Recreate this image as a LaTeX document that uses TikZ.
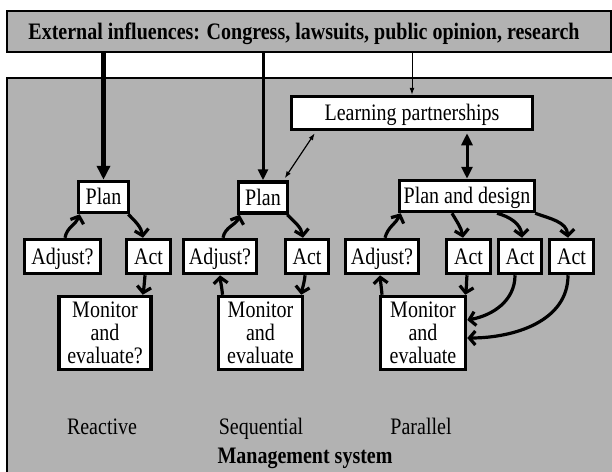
\documentclass[tikz,border=0pt]{standalone}
\usepackage{fontspec}
\usepackage{graphicx}
\setmainfont{Liberation Serif}
\usetikzlibrary{arrows.meta}
\definecolor{bg}{RGB}{178,178,178}
\newcommand{\tall}[1]{\raisebox{-3pt}[\height][\depth]{\scalebox{1}[1.18]{\fontsize{20}{19.5}\selectfont\begin{tabular}{@{}c@{}}#1\end{tabular}}}}
\begin{document}
\begin{tikzpicture}[x=1pt,y=1pt,
  box/.style={draw, line width=3.5pt, fill=white, inner sep=0pt, font=\fontsize{20}{23}\selectfont, align=center},
  flow/.style={line width=3.2pt, -{Straight Barb[length=6pt,width=14pt]}},
  lbl/.style={font=\fontsize{20}{23}\selectfont, inner sep=0pt},
  bigin/.style={line width=4.5pt, -{Triangle[length=14pt,width=13pt]}},
  medin/.style={line width=3pt, -{Triangle[length=11pt,width=10pt]}},
  thin/.style={line width=1pt, -{Latex[length=7pt,width=5pt]}},
]
\useasboundingbox (0,0) rectangle (612,-471);
\clip (0,0) rectangle (612,-471);
\fill[bg, draw=black, line width=2pt] (7,-78) rectangle (620,-490);
\node[draw, line width=1.5pt, fill=bg, minimum width=604pt, minimum height=41pt, inner sep=0pt,
  font=\bfseries\fontsize{20}{23}\selectfont] (banner) at (309,-31.5)
  {\tall{External influences: Congress, lawsuits, public opinion, research}\hspace*{10pt}};

% boxes
\node[box, minimum width=241pt, minimum height=33pt] (LP) at (412,-113) {\tall{Learning partnerships}};
\node[box, minimum width=50pt, minimum height=31pt] (Plan1) at (103.5,-197) {\tall{Plan}};
\node[box, minimum width=76pt, minimum height=34pt] (Adjust1) at (62.5,-256.5) {\tall{Adjust?}};
\node[box, minimum width=44pt, minimum height=34pt] (Act1) at (148.5,-256.5) {\tall{Act}};
\node[box, minimum width=92pt, minimum height=73pt] (Mon1) at (105,-333) {\tall{Monitor\\and\\evaluate?}};

\node[box, minimum width=49pt, minimum height=31pt] (Plan2) at (263,-197.5) {\tall{Plan}};
\node[box, minimum width=73pt, minimum height=34pt] (Adjust2) at (220,-256.5) {\tall{Adjust?}};
\node[box, minimum width=43pt, minimum height=34pt] (Act2) at (307,-256.5) {\tall{Act}};
\node[box, minimum width=84pt, minimum height=73pt] (Mon2) at (260.5,-333) {\tall{Monitor\\and\\evaluate}};

\node[box, minimum width=135pt, minimum height=31pt] (PD) at (467,-196) {\tall{Plan and design}};
\node[box, minimum width=73pt, minimum height=34pt] (Adjust3) at (382,-256.5) {\tall{Adjust?}};
\node[box, minimum width=44pt, minimum height=34pt] (Act3a) at (468.5,-256.5) {\tall{Act}};
\node[box, minimum width=43pt, minimum height=34pt] (Act3b) at (520,-256.5) {\tall{Act}};
\node[box, minimum width=44pt, minimum height=34pt] (Act3c) at (571.5,-256.5) {\tall{Act}};
\node[box, minimum width=85pt, minimum height=73pt] (Mon3) at (423,-333) {\tall{Monitor\\and\\evaluate}};

% labels
\node[lbl] (r) at (102,-427) {\tall{Reactive}};
\node[lbl] (s) at (261,-427) {\tall{Sequential}};
\node[lbl] (p) at (421,-427) {\tall{Parallel}};
\node[lbl, font=\bfseries\fontsize{20}{23}\selectfont] (ms) at (305,-456) {\tall{Management system}};

% external arrows
\draw[bigin] (banner.south -| Plan1.north) -- (Plan1.north);
\draw[medin] (banner.south -| Plan2.north) -- (Plan2.north);
\draw[thin] (banner.south -| LP.north) -- (LP.north);
\draw[line width=3pt, {Triangle[length=12pt,width=11pt]}-{Triangle[length=12pt,width=11pt]}]
  ([yshift=-2pt]LP.south -| PD.north) -- (PD.north);
\draw[line width=1.2pt, {Latex[length=7pt,width=5pt]}-{Latex[length=7pt,width=5pt]}]
  ([xshift=25pt,yshift=-2pt]LP.south west) -- ([xshift=-4.5pt,yshift=2pt]Plan2.north east);

% reactive
\draw[flow] ([xshift=2.5pt]Adjust1.north) to[out=80,in=-110] ([xshift=3pt]Plan1.south west);
\draw[flow] ([xshift=-2pt]Plan1.south east) to[out=-45,in=100] ([xshift=-5.5pt]Act1.north);
\draw[flow] ([xshift=-3.5pt]Act1.south) to[out=-95,in=80] ([xshift=-10pt]Mon1.north east);

% sequential
\draw[flow] ([xshift=3pt]Adjust2.north) to[out=80,in=-110] ([xshift=3pt]Plan2.south west);
\draw[flow] ([xshift=-2pt]Plan2.south east) to[out=-45,in=100] ([xshift=-4pt]Act2.north);
\draw[flow] ([xshift=-2pt]Act2.south) to[out=-95,in=80] ([xshift=-3pt]Mon2.north east);
\draw[flow] ([xshift=-38pt]Mon2.north) to[out=95,in=-85] (Adjust2.south);

% parallel
\draw[flow] ([xshift=3pt]Adjust3.north) to[out=75,in=-115] ([xshift=3pt]PD.south west);
\draw[flow] ([xshift=-15pt]PD.south) to[out=-60,in=100] ([xshift=-5.5pt]Act3a.north);
\draw[flow] ([xshift=30pt]PD.south) to[out=-15,in=95] ([xshift=2pt]Act3b.north);
\draw[flow] ([xshift=-1pt]PD.south east) to[out=-20,in=95] ([xshift=-3.5pt]Act3c.north);
\draw[flow] ([xshift=-1.5pt]Act3a.south) to[out=-95,in=80] ([xshift=-2pt]Mon3.north east);
\draw[flow] ([xshift=-5pt]Act3b.south) to[out=-90,in=10] ([yshift=13pt]Mon3.east);
\draw[flow] ([xshift=-3.5pt]Act3c.south) to[out=-90,in=0] ([yshift=-5pt]Mon3.east);
\draw[flow] ([xshift=-41pt]Mon3.north) to[out=95,in=-85] ([xshift=-2pt]Adjust3.south);
\end{tikzpicture}
\end{document}
